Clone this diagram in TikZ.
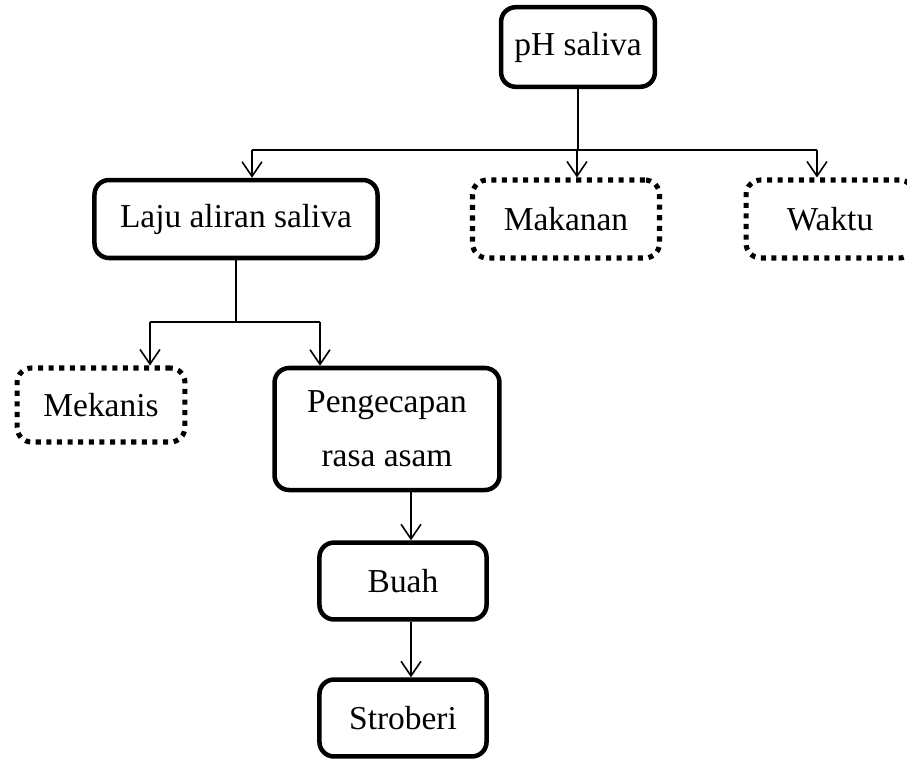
\documentclass[tikz,border=0pt]{standalone}
\usepackage{fontspec}
\setmainfont{Liberation Serif}
\usetikzlibrary{arrows.meta, positioning, calc}

\begin{document}
\begin{tikzpicture}[
  x=0.377pt, y=-0.377pt,
  box/.style={
    rectangle, rounded corners=5.5pt,
    draw, line width=1.7pt,
    align=center, inner sep=2pt
  },
  dotbox/.style={box, line width=1.9pt, dash pattern=on 1.9pt off 2.1pt},
  conn/.style={line width=0.6pt},
  arr/.style={conn, -{Straight Barb[length=5.5pt, width=7.5pt]}},
  every node/.style={font=\fontsize{12.6}{20.5}\selectfont}
]
  \useasboundingbox (0,0) rectangle (907,758);

  % Boxes top-down
  \node[box, minimum width=58pt, minimum height=30pt]
        (ph)   at (578,47)  {pH saliva};
  \node[box, minimum width=106.7pt, minimum height=29.4pt]
        (laju) at (236,219) {Laju aliran saliva};
  \node[dotbox, minimum width=70.5pt, minimum height=29.4pt]
        (mak)  at (566,219) {Makanan};
  \node[dotbox, minimum width=63.3pt, minimum height=29.4pt]
        (wak)  at (830,219) {Waktu};
  \node[dotbox, minimum width=63.3pt, minimum height=27.9pt]
        (mek)  at (101,405) {Mekanis};
  \node[box, minimum width=84.8pt, minimum height=46pt]
        (peng) at (387,429) {Pengecapan\\rasa asam};
  \node[box, minimum width=63pt, minimum height=29pt]
        (buah) at (403,581) {Buah};
  \node[box, minimum width=63pt, minimum height=29pt]
        (stro) at (403,718) {Stroberi};

  % Arrow end points
  \coordinate (bus1) at (0,150);
  \coordinate (bus2) at (0,322);
  \coordinate (tLaju) at ($(laju.north)+(16,0)$);
  \coordinate (tMak)  at ($(mak.north)+(11,0)$);
  \coordinate (tWak)  at ($(wak.north)+(-13,0)$);
  \coordinate (tMek)  at ($(mek.north)+(49,0)$);
  \coordinate (tPeng) at ($(peng.north)+(-67,0)$);
  \coordinate (tBuah) at ($(buah.north)+(8,0)$);
  \coordinate (tStro) at ($(stro.north)+(8,0)$);

  % pH saliva branches
  \draw[conn] (ph.south) -- (ph.south |- bus1);
  \draw[conn] (tLaju |- bus1) -- (tWak |- bus1);
  \draw[arr] (tLaju |- bus1) -- (tLaju);
  \draw[arr] (tMak |- bus1) -- (tMak);
  \draw[arr] (tWak |- bus1) -- (tWak);

  % Laju aliran saliva branches
  \draw[conn] (laju.south) -- (laju.south |- bus2);
  \draw[conn] (tMek |- bus2) -- (tPeng |- bus2);
  \draw[arr] (tMek |- bus2) -- (tMek);
  \draw[arr] (tPeng |- bus2) -- (tPeng);

  % Chain down
  \draw[arr] (tBuah |- peng.south) -- (tBuah);
  \draw[arr] (tStro |- buah.south) -- (tStro);
\end{tikzpicture}
\end{document}
